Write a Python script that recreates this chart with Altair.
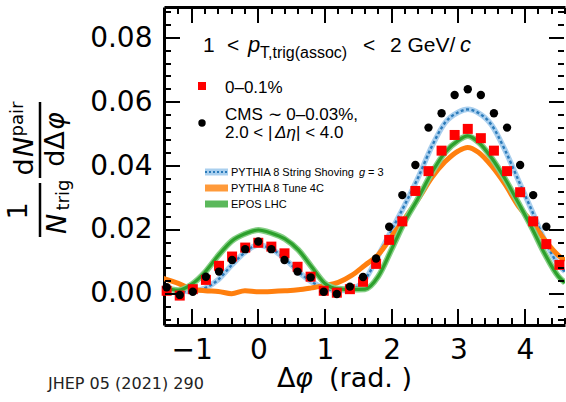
import altair as alt
import pandas as pd

# ---------------- data ----------------
phi_bins = [-1.374, -1.178, -0.982, -0.785, -0.589, -0.393, -0.196, 0.0, 0.196, 0.393,
            0.589, 0.785, 0.982, 1.178, 1.374, 1.571, 1.767, 1.963, 2.160, 2.356,
            2.553, 2.749, 2.945, 3.142, 3.338, 3.534, 3.731, 3.927, 4.123, 4.320, 4.516]
alice_0_01 = [0.0010, -0.0005, 0.0015, 0.0044, 0.0088, 0.0117, 0.0145, 0.0160, 0.0148, 0.0127,
              0.0085, 0.0054, 0.0010, 0.0004, 0.0015, 0.0038, 0.0094, 0.0169, 0.0227, 0.0322,
              0.0384, 0.0448, 0.0497, 0.0516, 0.0487, 0.0448, 0.0384, 0.0318, 0.0227, 0.0156, 0.0091]
cms_phi = phi_bins[:30]
cms_0_003 = [0.0021, -0.0003, 0.0007, 0.0054, 0.0070, 0.0106, 0.0140, 0.0164, 0.0140, 0.0106,
             0.0070, 0.0052, 0.0007, 0.0000, 0.0023, 0.0053, 0.0111, 0.0210, 0.0309, 0.0403,
             0.0520, 0.0565, 0.0622, 0.0640, 0.0622, 0.0565, 0.0520, 0.0403, 0.0309, 0.0210]

model_phi = [-1.45, -1.2, -1.0, -0.8, -0.6, -0.4, -0.2, 0.0, 0.2, 0.4, 0.6, 0.8, 1.0, 1.2, 1.4, 1.6,
             1.8, 2.0, 2.2, 2.4, 2.6, 2.8, 3.0, 3.14, 3.3, 3.5, 3.7, 3.9, 4.1, 4.3, 4.5, 4.6]
shoving = [0.0025, 0.0010, 0.0008, 0.0018, 0.0045, 0.0090, 0.0130, 0.0153, 0.0140, 0.0110, 0.0070,
           0.0038, 0.0018, 0.0010, 0.0015, 0.0045, 0.0120, 0.0200, 0.0280, 0.0365, 0.0460, 0.0535,
           0.0568, 0.0577, 0.0566, 0.0528, 0.0450, 0.0356, 0.0262, 0.0166, 0.0092, 0.0070]
tune4c = [0.0050, 0.0033, 0.0016, 0.0010, 0.0008, 0.0001, 0.0010, 0.0007, 0.0008, 0.0010, 0.0013,
          0.0019, 0.0026, 0.0036, 0.0058, 0.0090, 0.0123, 0.0180, 0.0237, 0.0297, 0.0363, 0.0413,
          0.0447, 0.0458, 0.0443, 0.0400, 0.0343, 0.0275, 0.0226, 0.0168, 0.0121, 0.0105]
epos = [0.0022, 0.0012, 0.0030, 0.0068, 0.0120, 0.0165, 0.0188, 0.0200, 0.0190, 0.0172, 0.0138,
        0.0085, 0.0033, 0.0016, 0.0014, 0.0015, 0.0055, 0.0140, 0.0228, 0.0300, 0.0378, 0.0442,
        0.0480, 0.0494, 0.0475, 0.0425, 0.0360, 0.0285, 0.0208, 0.0124, 0.0055, 0.0035]

x_major = [-1, 0, 1, 2, 3, 4]
x_minor = [-1.4, -1.2, -0.8, -0.6, -0.4, -0.2, 0.2, 0.4, 0.6, 0.8, 1.2, 1.4, 1.6, 1.8,
           2.2, 2.4, 2.6, 2.8, 3.2, 3.4, 3.6, 3.8, 4.2, 4.4, 4.6]
y_major = [0.0, 0.02, 0.04, 0.06, 0.08]
y_minor = [-0.008, -0.004, 0.004, 0.008, 0.012, 0.016, 0.024, 0.028, 0.032, 0.036, 0.044,
           0.048, 0.052, 0.056, 0.064, 0.068, 0.072, 0.076, 0.084, 0.088]

alice_df = pd.DataFrame({"phi": phi_bins, "y": alice_0_01})
cms_df = pd.DataFrame({"phi": cms_phi, "y": cms_0_003})
model_df = pd.DataFrame({"phi": model_phi, "shoving": shoving, "tune4c": tune4c, "epos": epos})

# ---------------- layout ----------------
W, H = 401, 318
MAJ, MIN = 16, 7
XDOM = [-1.414, 4.60]
YDOM = [-0.0097, 0.0897]
xsc = alt.Scale(domain=XDOM, nice=False, zero=False)
ysc = alt.Scale(domain=YDOM, nice=False, zero=False)
LBL = "DejaVu Sans"
TXT = "Liberation Sans"


def ax_frame(orient, labels, values, fmt):
    kw = dict(orient=orient, grid=False, title=None, ticks=False, tickSize=0, domain=True,
              domainColor="black", domainWidth=3, labels=labels, values=values)
    if labels:
        kw.update(labelFont=LBL, labelFontSize=28, labelColor="black", format=fmt,
                  labelPadding=11 if orient == "bottom" else 12, labelFlush=False, labelOverlap=False)
    return alt.Axis(**kw)


def X(ax, field="phi"):
    return alt.X(f"{field}:Q", scale=xsc, axis=ax)


def Y(field, ax):
    return alt.Y(f"{field}:Q", scale=ysc, axis=ax)


blue_halo = alt.Chart(model_df).mark_line(color="#a9cfee", strokeWidth=5.5, clip=True, interpolate="monotone").encode(
    x=X(ax_frame("bottom", True, x_major, "d")), y=Y("shoving", ax_frame("left", True, y_major, ".2f")))
blue_line = alt.Chart(model_df).mark_line(color="#2b7bba", strokeWidth=2.4, strokeDash=[3, 2.5], clip=True,
                                          interpolate="monotone").encode(
    x=X(ax_frame("top", False, x_major, "d")), y=Y("shoving", None))
orange = alt.Chart(model_df).mark_line(color="#ff7f0e", strokeWidth=5, clip=True, interpolate="monotone").encode(
    x=X(None), y=Y("tune4c", None))
green_halo = alt.Chart(model_df).mark_line(color="#86cf86", strokeWidth=6, clip=True, interpolate="monotone").encode(
    x=X(None), y=Y("epos", None))
green = alt.Chart(model_df).mark_line(color="#2ca02c", strokeWidth=3.2, clip=True, interpolate="monotone").encode(
    x=X(None), y=Y("epos", None))
red = alt.Chart(alice_df).mark_point(shape="square", filled=True, color="#ff0000", size=100, opacity=1).encode(
    x=X(None), y=Y("y", None))
black = alt.Chart(cms_df).mark_circle(color="black", size=70, opacity=1).encode(
    x=X(None), y=Y("y", None))

one = pd.DataFrame({"d": [0]})


def label(text, x, y, size, font=TXT, style="normal", angle=0, align="left", baseline="alphabetic",
          color="black"):
    return alt.Chart(one).mark_text(text=text, font=font, fontSize=size, fontStyle=style, angle=angle,
                                    align=align, baseline=baseline, color=color).encode(
        x=alt.value(x), y=alt.value(y))


def rule(x, x2, y, y2, color, width, dash=None):
    kw = dict(color=color, strokeWidth=width)
    if dash:
        kw["strokeDash"] = dash
    return alt.Chart(one).mark_rule(**kw).encode(x=alt.value(x), x2=alt.value(x2), y=alt.value(y),
                                                 y2=alt.value(y2))


# inward axis ticks on all four sides (positions follow the linear axis scales above)
def xpix(v):
    return int(round((v - XDOM[0]) / (XDOM[1] - XDOM[0]) * W))


def ypix(v):
    return int(round((YDOM[1] - v) / (YDOM[1] - YDOM[0]) * H))


ticks = []
for vals, ln in ((x_major, MAJ), (x_minor, MIN)):
    for v in vals:
        p = xpix(v)
        ticks.append(rule(p, p, H - 1, H - ln, "#000000", 2))
        ticks.append(rule(p, p, 1, ln, "#000000", 2))
for vals, ln in ((y_major, MAJ), (y_minor, MIN)):
    for v in vals:
        p = ypix(v)
        ticks.append(rule(1, ln, p, p, "#000000", 2))
        ticks.append(rule(W - ln, W - 1, p, p, "#000000", 2))

annos = [
    # kinematic range
    label("1", 39, 45, 21),
    label("<", 63, 45, 21),
    label("p", 84, 45, 22, style="italic"),
    label("T,trig(assoc)", 96, 51, 16),
    label("<", 199, 45, 21),
    label("2 GeV/", 226, 45, 21),
    label("c", 296, 45, 22, style="italic"),
    # data legend
    alt.Chart(one).mark_point(shape="square", filled=True, color="#ff0000", size=64, opacity=1).encode(
        x=alt.value(38), y=alt.value(79)),
    label("0–0.1%", 61, 86, 17),
    alt.Chart(one).mark_circle(color="black", size=55, opacity=1).encode(x=alt.value(38), y=alt.value(116)),
    label("CMS ∼ 0–0.03%,", 61, 113, 17),
    label("2.0 < |", 61, 131, 17),
    label("Δη", 111, 131, 17, style="italic"),
    label("| < 4.0", 132, 131, 17),
    # model legend
    rule(41, 64, 165, 165, "#a9cfee", 7),
    rule(41, 64, 165, 165, "#2b7bba", 2, [2, 2]),
    label("PYTHIA 8 String Shoving", 67, 169, 11),
    label("g", 195, 169, 11, style="italic"),
    label("= 3", 204, 169, 11),
    rule(41, 64, 181, 181, "#ff9a3a", 7),
    label("PYTHIA 8 Tune 4C", 67, 185, 11),
    rule(41, 64, 197, 197, "#5bb85b", 7),
    label("EPOS LHC", 67, 201, 11),
    # y title (rotated fraction)
    label("1", -145, 204, 27, font=LBL, angle=270, align="center", baseline="middle"),
    rule(-124, -124, 176, 230, "black", 2.5),
    label("N", -106, 217, 27, font=LBL, style="italic", angle=270, align="center", baseline="middle"),
    label("trig", -100, 188, 18, font=LBL, angle=270, align="center", baseline="middle"),
    label("d", -139, 160, 27, font=LBL, angle=270, align="center", baseline="middle"),
    label("N", -139, 140, 27, font=LBL, style="italic", angle=270, align="center", baseline="middle"),
    label("pair", -146, 112, 18, font=LBL, angle=270, align="center", baseline="middle"),
    rule(-124, -124, 95, 171, "black", 2.5),
    label("dΔ", -108, 142, 27, font=LBL, angle=270, align="center", baseline="middle"),
    label("φ", -108, 114, 27, font=LBL, style="italic", angle=270, align="center", baseline="middle"),
    # x title
    label("Δ", 113, 380, 27, font=LBL),
    label("φ", 131, 380, 27, font=LBL, style="italic"),
    label("(rad. )", 165, 380, 27, font=LBL),
    # footer
    label("JHEP 05 (2021) 290", -116, 382, 16, font=LBL, color="#222222"),
]

chart = alt.layer(blue_halo, blue_line, orange, green_halo, green, red, black, *annos, *ticks).resolve_axis(
    x="independent", y="independent"
).properties(
    width=W, height=H,
    autosize=alt.AutoSizeParams(type="none"),
    padding={"left": 164, "top": 7, "right": 1, "bottom": 77},
    background="white",
).configure_view(stroke=None)

chart.save("out.html", embed_options={"renderer": "svg", "actions": False})
